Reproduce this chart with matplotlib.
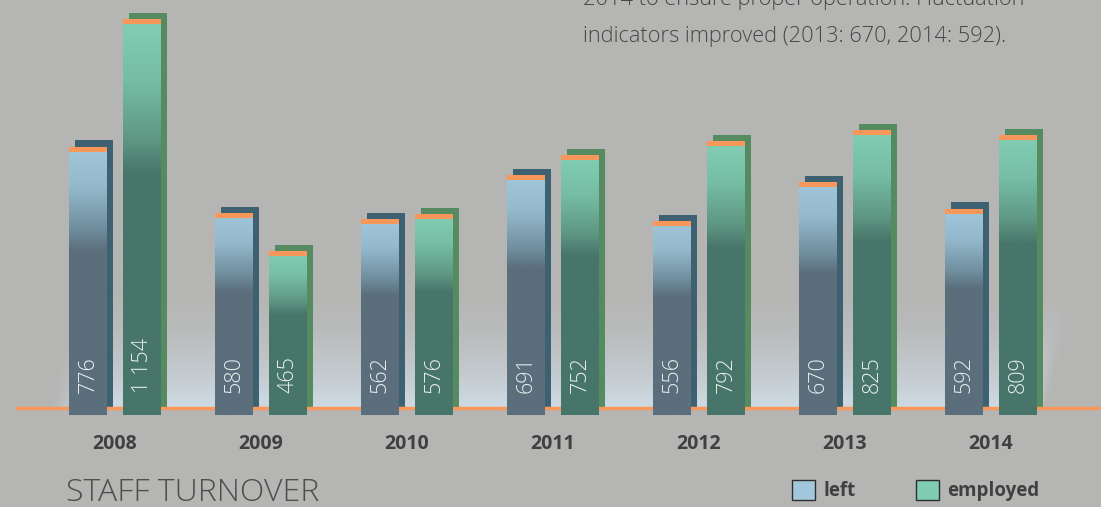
import numpy as np
import matplotlib.pyplot as plt
from matplotlib.colors import LinearSegmentedColormap
from matplotlib.patches import Patch

years = ['2008', '2009', '2010', '2011', '2012', '2013', '2014']
left = [776, 580, 562, 691, 556, 670, 592]
employed = [1154, 465, 576, 752, 792, 825, 809]

BG = '#b5b5b3'
FONT = ['Open Sans', 'DejaVu Sans']
ORANGE = '#f7975a'

left_cm = LinearSegmentedColormap.from_list(
    'left', [(0, '#5b6e7c'), (0.61, '#5b6e7c'), (0.70, '#7190a0'),
             (0.85, '#94b9cc'), (1, '#a2c7da')])
emp_cm = LinearSegmentedColormap.from_list(
    'emp', [(0, '#477569'), (0.61, '#477569'), (0.70, '#5f9885'),
            (0.85, '#76bea5'), (1, '#82ceb4')])

fig = plt.figure(figsize=(11.01, 5.07), dpi=100, facecolor=BG)
ax = fig.add_axes([0, 0, 1, 1])
ax.set_facecolor(BG)
ax.axis('off')

x = np.arange(len(years))
w = 0.26
off = 0.185
dx, dy = 0.041, 18      # shadow offset
cap = 15                # orange cap height
base = -21              # front bars go a bit below the baseline

# soft light glow behind the bars
gx = np.linspace(-0.75, 6.8, 400)
gy = np.linspace(0, 400, 200)
GX, GY = np.meshgrid(gx, gy)
lo = -0.45 + (0.18 / 400) * GY
hi = 6.37 + (0.27 / 400) * GY
edge = np.clip((GX - lo) / 0.25, 0, 1) * np.clip((hi - GX) / 0.12, 0, 1)
vert = np.clip(1 - GY / 380, 0, 1) ** 1.8
rgba = np.zeros(GX.shape + (4,))
rgba[..., :3] = [0.83, 0.89, 0.93]
rgba[..., 3] = 0.85 * vert * edge
ax.imshow(rgba, origin='lower', extent=[gx[0], gx[-1], gy[0], gy[-1]],
          aspect='auto', zorder=1, interpolation='bilinear')

grad = np.linspace(0, 1, 256).reshape(-1, 1)

for vals, sgn, cm, shadow in [(left, -1, left_cm, '#3e6171'),
                               (employed, 1, emp_cm, '#568a60')]:
    xs = x + sgn * off
    ax.bar(xs + dx, np.array(vals) + dy, width=w, bottom=0,
           color=shadow, zorder=2)
    bars = ax.bar(xs, np.array(vals) - base, width=w, bottom=base,
                  color='none', zorder=4)
    for b, v in zip(bars, vals):
        im = ax.imshow(grad, origin='lower', cmap=cm, vmin=0, vmax=1,
                       extent=[b.get_x(), b.get_x() + w, base, v],
                       aspect='auto', zorder=4)
        im.set_clip_path(b)
    ax.bar(xs, cap, width=w, bottom=np.array(vals) - cap, color=ORANGE, zorder=5)
    for xi, v in zip(xs, vals):
        ax.text(xi, 44, f'{v:,}'.replace(',', ' '), rotation=90, ha='center',
                va='bottom', color='#e9efee', fontsize=15.5, family=FONT,
                fontweight='light', zorder=6)

ax.axhline(0, xmin=17 / 1101, xmax=1, color=ORANGE, lw=2.5, zorder=3)

for xi, yr in zip(x, years):
    ax.text(xi, -121.7, yr, ha='center', va='baseline', fontsize=14,
            fontweight='bold', family=FONT, color='#404040')

ax.set_xlim(-0.788, 6.753)
ax.set_ylim(-294, 1211)

fig.text(66 / 1101, 0.012, 'STAFF TURNOVER', fontsize=23, family=FONT,
         fontweight='light', color='#4e4e4e', va='baseline')
fig.text(583 / 1101, 0.990, '2014 to ensure proper operation. Fluctuation',
         fontsize=15.7, family=FONT, fontweight='light', color='#474747', va='baseline')
fig.text(583 / 1101, 0.917, 'indicators improved (2013: 670, 2014: 592).',
         fontsize=15.7, family=FONT, fontweight='light', color='#474747', va='baseline')

handles = [Patch(facecolor='#a2c7da', edgecolor='#2e2e2e', lw=1),
           Patch(facecolor='#80cdb3', edgecolor='#2e2e2e', lw=1)]
leg = ax.legend(handles, ['left', 'employed'], ncol=2, frameon=False,
                loc='lower left', bbox_to_anchor=(775 / 1101, -0.022),
                bbox_transform=fig.transFigure, handlelength=1.23, handleheight=1.23,
                handletextpad=0.45, columnspacing=3.2,
                prop={'family': FONT, 'weight': 'bold', 'size': 13.5})
for t in leg.get_texts():
    t.set_color('#404040')

fig.savefig('out.png', dpi=100, facecolor=BG)
